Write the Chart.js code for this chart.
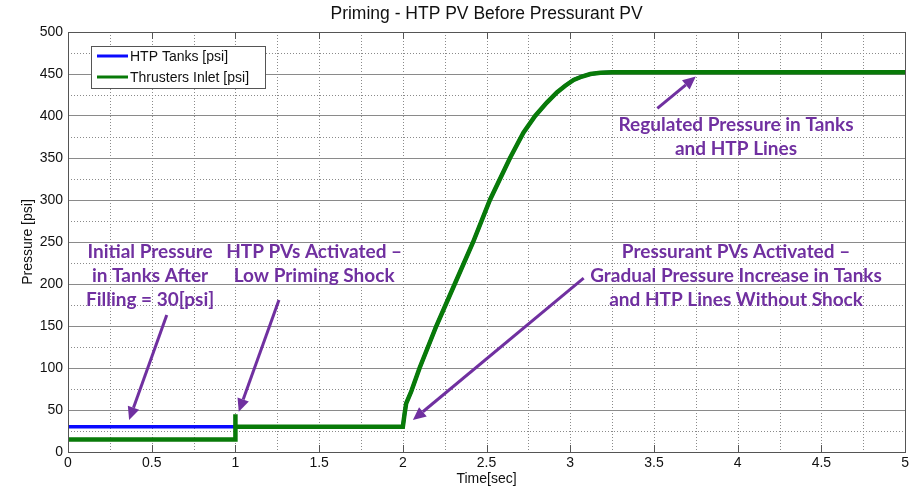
<!DOCTYPE html>
<html>
<head>
<meta charset="utf-8">
<title>Priming - HTP PV Before Pressurant PV</title>
<script src="https://cdn.jsdelivr.net/npm/chart.js@4"></script>
<style>
    html, body { margin: 0; padding: 0; background: #ffffff; }
    canvas { display: block; }
</style>
</head>
<body>
<canvas id="chart" width="912" height="490"></canvas>
<script>
// Pressure traces during priming (time in sec, pressure in psi)
const htpTime = [0, 1.0, 2.0, 2.01, 2.02, 2.05, 2.1, 2.2, 2.31, 2.42, 2.52, 2.64, 2.72, 2.79, 2.86, 2.92, 2.97, 3.02, 3.07, 3.12, 3.18, 3.25, 5.0];
const htpPsi  = [30, 30, 30, 45, 58, 72, 100, 150, 200, 250, 300, 350, 380, 400, 416, 428, 436, 443, 447, 450, 451.5, 452, 452];

const inletTime = [0, 1.0, 1.0, 1.0, 2.0, 2.01, 2.02, 2.05, 2.1, 2.2, 2.31, 2.42, 2.52, 2.64, 2.72, 2.79, 2.86, 2.92, 2.97, 3.02, 3.07, 3.12, 3.18, 3.25, 5.0];
const inletPsi  = [15, 15, 45, 30, 30, 45, 58, 72, 100, 150, 200, 250, 300, 350, 380, 400, 416, 428, 436, 443, 447, 450, 451.5, 452, 452];

const seriesLabels = ['HTP Tanks [psi]', 'Thrusters Inlet [psi]'];
const seriesColors = ['#0a0aff', '#087a08'];

const chartTitle = 'Priming - HTP PV Before Pressurant PV';
const xTitle = 'Time[sec]';
const yTitle = 'Pressure [psi]';

// Callouts: text lines, text anchor (t, psi), arrow tail and head (t, psi)
const notes = [
    { lines: ['Initial Pressure', 'in Tanks After', 'Filling = 30[psi]'], at: [0.49, 238], from: [0.59, 163], to: [0.365, 38] },
    { lines: ['HTP PVs Activated \u2013', 'Low Priming Shock'], at: [1.47, 238], from: [1.26, 181], to: [1.02, 48] },
    { lines: ['Pressurant PVs Activated \u2013', 'Gradual Pressure Increase in Tanks', 'and HTP Lines Without Shock'], at: [3.99, 238], from: [3.08, 207], to: [2.06, 38] },
    { lines: ['Regulated Pressure in Tanks', 'and HTP Lines'], at: [3.99, 389], from: [3.52, 409], to: [3.75, 447] }
];

const PURPLE = '#7030a0';
const AXIS_FONT = '"Liberation Sans", Arial, sans-serif';

function toPoints(xs, ys) {
    return xs.map((x, i) => ({ x, y: ys[i] }));
}

// Dotted minor grid, box and tick marks (MATLAB style)
const frame = {
    id: 'frame',
    beforeDatasetsDraw(chart) {
        const { ctx, chartArea: a, scales: { x, y } } = chart;
        ctx.save();
        ctx.strokeStyle = '#8a8a8a';
        ctx.lineWidth = 1;
        ctx.setLineDash([1, 2]);
        for (let t = 0.25; t < 5; t += 0.25) {
            const px = Math.round(x.getPixelForValue(t)) + 0.5;
            ctx.beginPath();
            ctx.moveTo(px, a.top);
            ctx.lineTo(px, a.bottom);
            ctx.stroke();
        }
        for (let p = 25; p < 500; p += 50) {
            const py = Math.round(y.getPixelForValue(p)) + 0.5;
            ctx.beginPath();
            ctx.moveTo(a.left, py);
            ctx.lineTo(a.right, py);
            ctx.stroke();
        }
        ctx.restore();
    },
    afterDraw(chart) {
        const { ctx, chartArea: a, scales: { x } } = chart;
        ctx.save();
        ctx.strokeStyle = '#555555';
        ctx.lineWidth = 1;
        ctx.strokeRect(Math.round(a.left) + 0.5, Math.round(a.top) + 0.5,
            Math.round(a.right - a.left), Math.round(a.bottom - a.top));
        for (let t = 0.5; t < 5; t += 0.5) {
            const px = Math.round(x.getPixelForValue(t)) + 0.5;
            ctx.beginPath();
            ctx.moveTo(px, a.top);
            ctx.lineTo(px, a.top + 7);
            ctx.moveTo(px, a.bottom);
            ctx.lineTo(px, a.bottom - 7);
            ctx.stroke();
        }

        // titles
        ctx.fillStyle = '#111111';
        ctx.textAlign = 'center';
        ctx.textBaseline = 'middle';
        ctx.font = '17.5px ' + AXIS_FONT;
        ctx.fillText(chartTitle, (a.left + a.right) / 2, 14);
        ctx.font = '14px ' + AXIS_FONT;
        ctx.fillText(xTitle, (a.left + a.right) / 2, 479);
        ctx.translate(28, (a.top + a.bottom) / 2);
        ctx.rotate(-Math.PI / 2);
        ctx.fillText(yTitle, 0, 0);
        ctx.restore();

        // legend box
        ctx.save();
        const lx = a.left + 23, ly = a.top + 14;
        ctx.fillStyle = '#ffffff';
        ctx.fillRect(lx, ly, 174, 42);
        ctx.strokeStyle = '#555555';
        ctx.strokeRect(lx + 0.5, ly + 0.5, 174, 42);
        ctx.font = '14px ' + AXIS_FONT;
        ctx.textAlign = 'left';
        ctx.textBaseline = 'middle';
        seriesLabels.forEach((label, i) => {
            const yy = ly + 10 + i * 21;
            ctx.strokeStyle = seriesColors[i];
            ctx.lineWidth = 3;
            ctx.beginPath();
            ctx.moveTo(lx + 6, yy);
            ctx.lineTo(lx + 37, yy);
            ctx.stroke();
            ctx.fillStyle = '#111111';
            ctx.fillText(label, lx + 39, yy + 1);
        });
        ctx.restore();

        // callouts
        ctx.save();
        ctx.fillStyle = PURPLE;
        ctx.strokeStyle = PURPLE;
        ctx.font = 'bold 19px Lato, "Open Sans", sans-serif';
        ctx.textAlign = 'center';
        ctx.textBaseline = 'middle';
        const sy = chart.scales.y;
        notes.forEach(n => {
            const cx = x.getPixelForValue(n.at[0]);
            const cy = sy.getPixelForValue(n.at[1]);
            n.lines.forEach((line, i) => ctx.fillText(line, cx, cy + i * 24));

            const x0 = x.getPixelForValue(n.from[0]), y0 = sy.getPixelForValue(n.from[1]);
            const x1 = x.getPixelForValue(n.to[0]), y1 = sy.getPixelForValue(n.to[1]);
            const ang = Math.atan2(y1 - y0, x1 - x0);
            const head = 13, half = 6;
            const bx = x1 - head * Math.cos(ang), by = y1 - head * Math.sin(ang);
            ctx.lineWidth = 3;
            ctx.beginPath();
            ctx.moveTo(x0, y0);
            ctx.lineTo(bx, by);
            ctx.stroke();
            ctx.beginPath();
            ctx.moveTo(x1, y1);
            ctx.lineTo(bx + half * Math.sin(ang), by - half * Math.cos(ang));
            ctx.lineTo(bx - half * Math.sin(ang), by + half * Math.cos(ang));
            ctx.closePath();
            ctx.fill();
        });
        ctx.restore();
    }
};

new Chart(document.getElementById('chart'), {
    type: 'line',
    data: {
        datasets: [
            {
                label: seriesLabels[1],
                data: toPoints(inletTime, inletPsi),
                borderColor: seriesColors[1],
                borderWidth: 4.5,
                pointRadius: 0,
                tension: 0,
                fill: false
            },
            {
                label: seriesLabels[0],
                data: toPoints(htpTime, htpPsi),
                borderColor: seriesColors[0],
                borderWidth: 3.5,
                pointRadius: 0,
                tension: 0,
                fill: false
            }
        ]
    },
    options: {
        responsive: false,
        animation: false,
        devicePixelRatio: 1,
        layout: { padding: { left: 0, right: 5, top: 32, bottom: 0 } },
        plugins: {
            legend: { display: false },
            title: { display: false },
            tooltip: { enabled: false }
        },
        scales: {
            x: {
                type: 'linear',
                min: 0,
                max: 5,
                afterFit(s) { s.height = 38; },
                grid: { display: false, drawTicks: false },
                border: { display: false },
                ticks: {
                    stepSize: 0.5,
                    padding: 3,
                    color: '#111111',
                    font: { family: AXIS_FONT, size: 14 },
                    maxRotation: 0,
                    callback: v => String(+v.toFixed(2))
                }
            },
            y: {
                min: 0,
                max: 500,
                afterFit(s) { s.width = 68; },
                grid: { color: '#8a8a8a', lineWidth: 1, drawTicks: false },
                border: { display: false },
                ticks: {
                    stepSize: 50,
                    padding: 5,
                    color: '#111111',
                    font: { family: AXIS_FONT, size: 14 }
                }
            }
        }
    },
    plugins: [frame]
});
</script>
</body>
</html>
